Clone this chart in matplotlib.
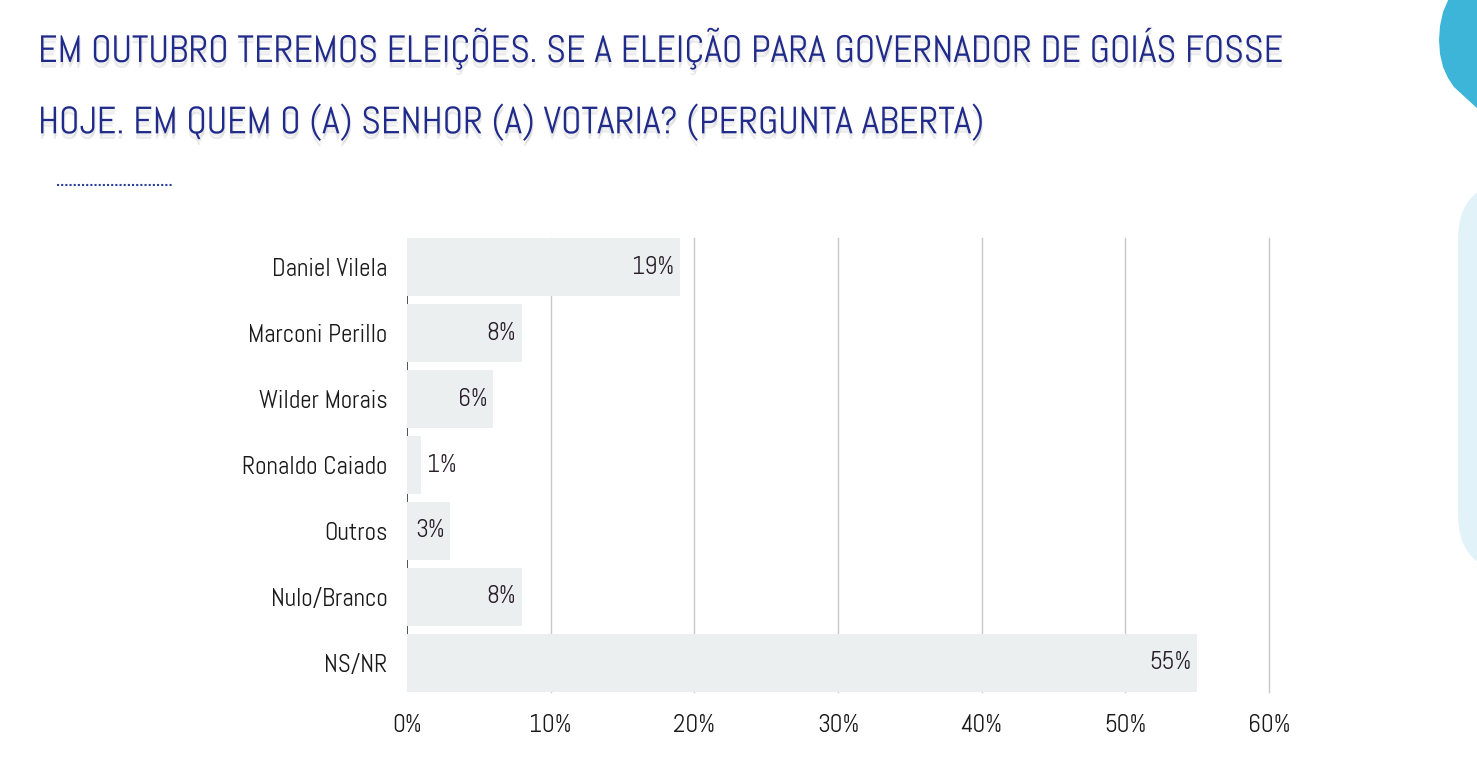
import matplotlib
matplotlib.use("Agg")
import matplotlib.pyplot as plt
from matplotlib.patches import FancyBboxPatch, Polygon
import matplotlib.patheffects as pe
from matplotlib import font_manager as fm

categories = ["Daniel Vilela", "Marconi Perillo", "Wilder Morais", "Ronaldo Caiado",
              "Outros", "Nulo/Branco", "NS/NR"]
values = [19, 8, 6, 1, 3, 8, 55]
value_labels = ["19%", "8%", "6%", "1%", "3%", "8%", "55%"]
xticks = [0, 10, 20, 30, 40, 50, 60]
xtick_labels = ["0%", "10%", "20%", "30%", "40%", "50%", "60%"]
title_lines = ["EM OUTUBRO TEREMOS ELEIÇÕES. SE A ELEIÇÃO PARA GOVERNADOR DE GOIÁS FOSSE",
               "HOJE. EM QUEM O (A) SENHOR (A) VOTARIA? (PERGUNTA ABERTA)"]

available = {f.name for f in fm.fontManager.ttflist}
main_font = next((n for n in ["Abel", "Dosis", "Asap Condensed", "Barlow Condensed"] if n in available),
                 "DejaVu Sans")
FONT = [main_font, "DejaVu Sans"]
plt.rcParams["font.family"] = FONT

W, H = 1477, 776
fig = plt.figure(figsize=(W / 100, H / 100), dpi=100)
fig.patch.set_facecolor("white")

# background overlay in pixel coordinates for decorations
bg = fig.add_axes([0, 0, 1, 1], zorder=-1)
bg.set_xlim(0, W)
bg.set_ylim(H, 0)
bg.axis("off")
drop = [(1449, -2), (1443, 12), (1440, 26), (1439, 40), (1440, 54), (1443, 67),
        (1448, 78), (1454, 87), (1479, 110), (1479, -2)]
bg.add_patch(Polygon(drop, closed=True, facecolor="#3db5d8", edgecolor="none"))
bg.add_patch(FancyBboxPatch((1458, 182), 140, 390,
                            boxstyle="round,pad=0,rounding_size=58",
                            facecolor="#e2f2f9", edgecolor="none"))
# dotted line under title
bg.plot([57, 172], [185, 185], color="#2a3fa0", linestyle=(0, (1, 1)), linewidth=1.5)

# title
shadow = [pe.SimplePatchShadow(offset=(0, -4), shadow_rgbFace="#b0b0b0", alpha=0.25),
          pe.SimplePatchShadow(offset=(1, -2), shadow_rgbFace="#b0b0b0", alpha=0.2),
          pe.Normal()]
title_texts = []
for i, line in enumerate(title_lines):
    t = fig.text(38 / W, 1 - (48 + 74 * i) / H, line, fontsize=30, color="#1f2a8a",
                 ha="left", va="center", path_effects=shadow)
    title_texts.append(t)

# fit first title line width to reference (38 -> 1280 px)
fig.canvas.draw()
r = fig.canvas.get_renderer()
wpx = title_texts[0].get_window_extent(r).width
scale = (1280 - 38) / wpx
for t in title_texts:
    t.set_fontsize(30 * scale)

ax = fig.add_axes([407 / W, 1 - 692 / H, (1269 - 407) / W, (692 - 238) / H])
ax.set_facecolor("none")
y = list(range(len(categories)))
ax.barh(y, values, height=0.88, color="#eceff0", zorder=2)
ax.set_xlim(0, 60)
ax.set_ylim(len(categories) - 0.56, -0.44)

for xv in xticks[1:]:
    ax.axvline(xv, color="#c8c8c8", linewidth=1, zorder=1, clip_on=False)
ax.axvline(0, color="#333333", linewidth=1.2, zorder=1)

for s in ax.spines.values():
    s.set_visible(False)
ax.set_yticks(y)
ax.set_yticklabels(categories, fontsize=18, color="#1a1a1a")
ax.set_xticks(xticks)
ax.set_xticklabels(xtick_labels, fontsize=18, color="#1a1a1a")
ax.tick_params(axis="both", length=0)
ax.tick_params(axis="y", pad=14)
ax.tick_params(axis="x", pad=16)

for yi, v, lab in zip(y, values, value_labels):
    if v >= 3:
        ax.annotate(lab, (v, yi), xytext=(-4, 0), textcoords="offset points",
                    ha="right", va="center", fontsize=18, color="#2a1f2a", zorder=3)
    else:
        ax.annotate(lab, (v, yi), xytext=(4, 0), textcoords="offset points",
                    ha="left", va="center", fontsize=18, color="#2a1f2a", zorder=3)

fig.savefig("out.png", dpi=100, facecolor="white")
